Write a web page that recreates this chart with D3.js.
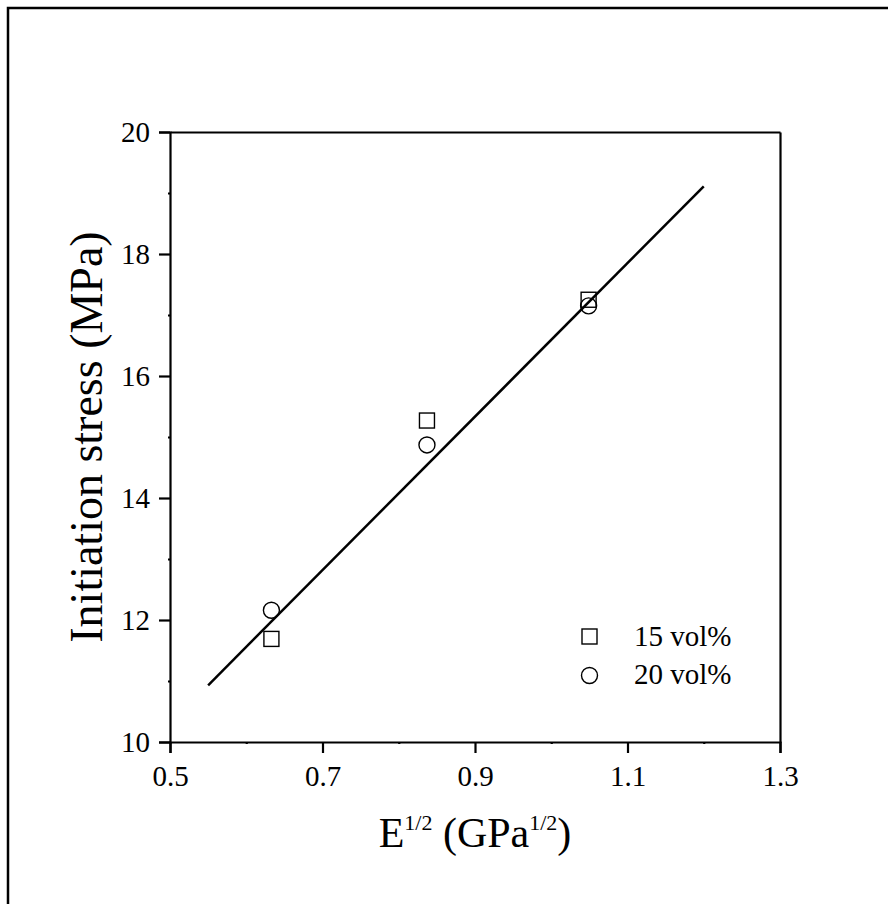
<!DOCTYPE html>
<html>
<head>
<meta charset="utf-8">
<script src="https://cdn.jsdelivr.net/npm/d3@7"></script>
<style>
  body { margin: 0; background: #fff; }
  svg { display: block; font-family: "Liberation Serif", "Times New Roman", serif; }
</style>
</head>
<body>
<svg width="888" height="904"></svg>
<script>
// data
const xTicks = [0.5, 0.7, 0.9, 1.1, 1.3];
const yTicks = [10, 12, 14, 16, 18, 20];
const xVals = [0.633, 0.837, 1.049];
const vol15 = [11.69, 15.27, 17.25];
const vol20 = [12.16, 14.87, 17.15];
const fitX = [0.55, 1.2];
const fitY = [10.93, 19.11];

let svg = d3.select("svg");
const pLeft = 170, pRight = 780, pTop = 132, pBottom = 742;

// outer frame (only top and left edges fall inside the picture)
svg.append("rect")
  .attr("x", 8).attr("y", 8)
  .attr("width", 900).attr("height", 920)
  .attr("fill", "none")
  .attr("stroke", "#000")
  .attr("stroke-width", 2.5);

let x = d3.scaleLinear().domain([0.5, 1.3]).range([pLeft, pRight]);
let y = d3.scaleLinear().domain([10, 20]).range([pBottom, pTop]);

// minor ticks
let xMinor = [0.6, 0.8, 1.0, 1.2];
let yMinor = [11, 13, 15, 17, 19];

svg.append("g")
  .attr("transform", `translate(0,${pBottom})`)
  .call(d3.axisBottom(x).tickValues(xTicks).tickSize(11).tickPadding(12).tickFormat(d3.format(".1f")));
svg.append("g")
  .attr("transform", `translate(0,${pTop})`)
  .call(d3.axisTop(x).tickValues([]).tickSize(0));
svg.append("g")
  .attr("transform", `translate(${pLeft},0)`)
  .call(d3.axisLeft(y).tickValues(yTicks).tickSize(11).tickPadding(9).tickFormat(d3.format("d")));
svg.append("g")
  .attr("transform", `translate(${pRight},0)`)
  .call(d3.axisRight(y).tickValues([]).tickSize(0));

svg.append("g")
  .attr("transform", `translate(0,${pBottom})`)
  .call(d3.axisBottom(x).tickValues(xMinor).tickSize(2).tickFormat(""))
  .select(".domain").remove();
svg.append("g")
  .attr("transform", `translate(${pLeft},0)`)
  .call(d3.axisLeft(y).tickValues(yMinor).tickSize(2).tickFormat(""))
  .select(".domain").remove();

svg.selectAll("g").attr("font-family", null);
svg.selectAll(".domain").attr("stroke-width", 2.2).attr("stroke", "#000");
svg.selectAll(".tick line").attr("stroke-width", 2.2).attr("stroke", "#000");
svg.selectAll(".tick text")
  .attr("fill", "#000")
  .style("font-family", "'Liberation Serif', serif")
  .style("font-size", "29px");

// fit line
svg.append("line")
  .attr("x1", x(fitX[0])).attr("y1", y(fitY[0]))
  .attr("x2", x(fitX[1])).attr("y2", y(fitY[1]))
  .attr("stroke", "#000")
  .attr("stroke-width", 2.5);

// markers
const sq = 15, rad = 8;
svg.append("g").selectAll("rect")
  .data(xVals.map((d, i) => [d, vol15[i]]))
  .enter()
  .append("rect")
  .attr("x", d => x(d[0]) - sq / 2)
  .attr("y", d => y(d[1]) - sq / 2)
  .attr("width", sq).attr("height", sq)
  .attr("fill", "none").attr("stroke", "#000").attr("stroke-width", 1.4);

svg.append("g").selectAll("circle")
  .data(xVals.map((d, i) => [d, vol20[i]]))
  .enter()
  .append("circle")
  .attr("cx", d => x(d[0]))
  .attr("cy", d => y(d[1]))
  .attr("r", rad)
  .attr("fill", "none").attr("stroke", "#000").attr("stroke-width", 1.4);

// legend
let lg = svg.append("g").attr("transform", "translate(589.5,636.5)");
lg.append("rect").attr("x", -sq / 2).attr("y", -sq / 2).attr("width", sq).attr("height", sq)
  .attr("fill", "none").attr("stroke", "#000").attr("stroke-width", 1.4);
lg.append("circle").attr("cx", 0).attr("cy", 39).attr("r", rad)
  .attr("fill", "none").attr("stroke", "#000").attr("stroke-width", 1.4);
lg.append("text").attr("x", 44.5).attr("y", 9.5).style("font-size", "29px").text("15 vol%");
lg.append("text").attr("x", 44.5).attr("y", 47.5).style("font-size", "29px").text("20 vol%");

// axis titles
svg.append("text")
  .attr("transform", `translate(102,${(pTop + pBottom) / 2}) rotate(-90)`)
  .attr("text-anchor", "middle")
  .style("font-size", "46px")
  .text("Initiation stress (MPa)");

let xt = svg.append("text")
  .attr("x", 475).attr("y", 847)
  .attr("text-anchor", "middle")
  .style("font-size", "42px");
xt.append("tspan").text("E");
xt.append("tspan").attr("dy", -17).style("font-size", "22px").text("1/2");
xt.append("tspan").attr("dy", 17).text(" (GPa");
xt.append("tspan").attr("dy", -17).style("font-size", "22px").text("1/2");
xt.append("tspan").attr("dy", 17).text(")");
</script>
</body>
</html>
